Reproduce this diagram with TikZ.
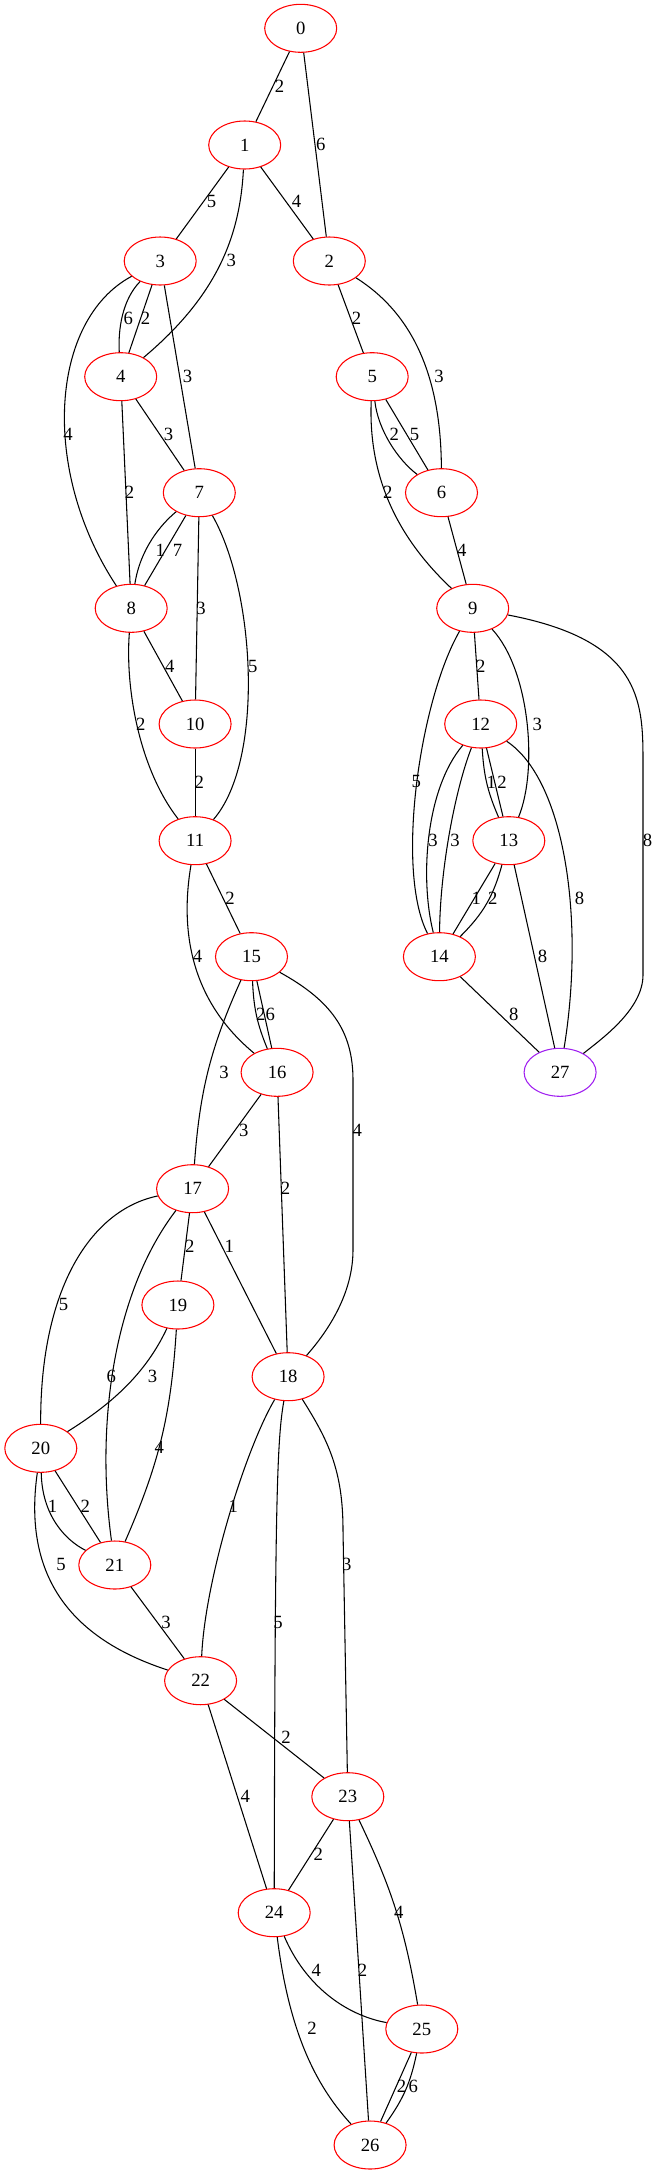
\documentclass[tikz,border=0pt]{standalone}
\usepackage{fontspec}
\setmainfont{Liberation Serif}
\usepackage{xcolor}
\usetikzlibrary{shapes.geometric}
\definecolor{gvpurple}{RGB}{160,32,240}

\begin{document}
\begin{tikzpicture}[x=0.75pt,y=-0.75pt,line width=0.8pt,
    vtx/.style={draw=red,ellipse,minimum width=54pt,minimum height=36pt,
      inner sep=0pt,font=\fontsize{14}{16}\selectfont},
    goal/.style={vtx,draw=gvpurple},
    wt/.style={inner sep=0pt,font=\fontsize{14}{16}\selectfont}]
  \useasboundingbox (0,0) rectangle (656,2175);

  % vertices
  \node (n0) [vtx] at (300.7,28.3) {0};
  \node (n1) [vtx] at (244.7,145) {1};
  \node (n2) [vtx] at (329.3,261) {2};
  \node (n3) [vtx] at (160.2,261) {3};
  \node (n4) [vtx] at (120.7,376.7) {4};
  \node (n5) [vtx] at (372.2,376.7) {5};
  \node (n6) [vtx] at (441.5,492.7) {6};
  \node (n7) [vtx] at (199.3,492.7) {7};
  \node (n8) [vtx] at (131.2,608.3) {8};
  \node (n9) [vtx] at (472.7,608.3) {9};
  \node (n10) [vtx] at (195.1,724) {10};
  \node (n11) [vtx] at (195.1,840.7) {11};
  \node (n12) [vtx] at (480.7,724) {12};
  \node (n13) [vtx] at (508.8,840.7) {13};
  \node (n14) [vtx] at (439.4,956.7) {14};
  \node (n15) [vtx] at (251.5,956.7) {15};
  \node (n16) [vtx] at (277.1,1072.3) {16};
  \node (n17) [vtx] at (192.6,1188.7) {17};
  \node (n18) [vtx] at (288.1,1376.7) {18};
  \node (n19) [vtx] at (177.9,1305) {19};
  \node (n20) [vtx] at (40.8,1448.3) {20};
  \node (n21) [vtx] at (114.8,1565) {21};
  \node (n22) [vtx] at (200.6,1680.7) {22};
  \node (n23) [vtx] at (347.8,1796.7) {23};
  \node (n24) [vtx] at (274.2,1912.7) {24};
  \node (n25) [vtx] at (421.8,2029) {25};
  \node (n26) [vtx] at (370.1,2145) {26};
  \node (n27) [goal] at (560.1,1072.3) {27};

  % weighted edges
  \draw (n0) -- (n1) node[wt] at (279.6,86.7) {2};
  \draw (n0) -- (n2) node[wt] at (320.9,144) {6};
  \draw (n1) -- (n3) node[wt] at (211.5,201.7) {5};
  \draw (n1) -- (n2) node[wt] at (296.5,201.7) {4};
  \draw (n1) .. controls (240,235) and (218,295) .. (n4) node[wt] at (231.3,260) {3};
  \draw (n3) .. controls (122,300) and (118,330) .. (n4) node[wt] at (128.3,318.3) {6};
  \draw (n3) -- (n4) node[wt] at (145.5,318.3) {2};
  \draw (n3) -- (n7) node[wt] at (187.6,376) {3};
  \draw (n3) .. controls (50,320) and (40,470) .. (n8) node[wt] at (68.1,434) {4};
  \draw (n2) -- (n5) node[wt] at (356.6,318.3) {2};
  \draw (n2) .. controls (415,315) and (441,380) .. (n6) node[wt] at (439,376) {3};
  \draw (n4) -- (n7) node[wt] at (168.6,434) {3};
  \draw (n4) -- (n8) node[wt] at (129.5,492.3) {2};
  \draw (n5) .. controls (378,430) and (398,460) .. (n6) node[wt] at (394.4,434) {2};
  \draw (n5) -- (n6) node[wt] at (414.6,434) {5};
  \draw (n5) .. controls (368,480) and (400,540) .. (n9) node[wt] at (387.7,492.3) {2};
  \draw (n6) -- (n9) node[wt] at (461.7,550) {4};
  \draw (n7) .. controls (160,525) and (140,550) .. (n8) node[wt] at (160.2,550.7) {1};
  \draw (n7) -- (n8) node[wt] at (177.5,550.7) {7};
  \draw (n7) -- (n10) node[wt] at (201,608.3) {3};
  \draw (n7) .. controls (255,590) and (265,760) .. (n11) node[wt] at (252.7,666) {5};
  \draw (n8) -- (n10) node[wt] at (169.9,666) {4};
  \draw (n8) .. controls (125,690) and (140,770) .. (n11) node[wt] at (140.9,724.3) {2};
  \draw (n9) -- (n12) node[wt] at (480.7,666) {2};
  \draw (n9) .. controls (530,670) and (538,770) .. (n13) node[wt] at (537.4,724) {3};
  \draw (n9) .. controls (420,700) and (395,870) .. (n14) node[wt] at (416.3,781.7) {5};
  \draw (n9) .. controls (640,640) and (643,700) .. (643,760) -- (643,975)
    .. controls (643,1010) and (600,1040) .. (n27) node[wt] at (647.6,840) {8};
  \draw (n10) -- (n11) node[wt] at (199.3,782.3) {2};
  \draw (n12) to[bend right=10] (n13) node[wt] at (491.2,782.3) {1};
  \draw (n12) -- (n13) node[wt] at (502.1,782.3) {2};
  \draw (n12) .. controls (425,790) and (420,880) .. (n14) node[wt] at (433.1,840) {3};
  \draw (n12) .. controls (455,790) and (440,870) .. (n14) node[wt] at (455,840) {3};
  \draw (n12) .. controls (565,780) and (585,920) .. (n27) node[wt] at (579.5,898.3) {8};
  \draw (n13) -- (n14) node[wt] at (476.4,898.3) {1};
  \draw (n13) to[bend left=15] (n14) node[wt] at (492.8,898.3) {2};
  \draw (n13) -- (n27) node[wt] at (542.5,956.7) {8};
  \draw (n14) -- (n27) node[wt] at (513.9,1014) {8};
  \draw (n11) -- (n15) node[wt] at (230,898.3) {2};
  \draw (n11) .. controls (180,930) and (190,1000) .. (n16) node[wt] at (197.6,956.7) {4};
  \draw (n15) to[bend right=10] (n16) node[wt] at (260.7,1014) {2};
  \draw (n15) -- (n16) node[wt] at (270.4,1014) {6};
  \draw (n15) to[bend right=10] (n17) node[wt] at (224.1,1072.3) {3};
  \draw (n15) .. controls (330,1000) and (353,1030) .. (353,1080) -- (353,1250)
    .. controls (353,1300) and (320,1340) .. (n18) node[wt] at (357.4,1130) {4};
  \draw (n16) -- (n17) node[wt] at (243.9,1130) {3};
  \draw (n16) -- (n18) node[wt] at (285.5,1188.3) {2};
  \draw (n17) -- (n19) node[wt] at (189.7,1246) {2};
  \draw (n17) -- (n18) node[wt] at (229.2,1246) {1};
  \draw (n17) .. controls (90,1210) and (40,1290) .. (n20) node[wt] at (63.5,1304) {5};
  \draw (n17) .. controls (115,1290) and (95,1420) .. (n21) node[wt] at (111.4,1376) {6};
  \draw (n19) .. controls (145,1375) and (110,1405) .. (n20) node[wt] at (152.6,1376) {3};
  \draw (n19) to[bend left=10] (n21) node[wt] at (159.4,1447.7) {4};
  \draw (n20) .. controls (42,1515) and (65,1540) .. (n21) node[wt] at (52.6,1506.7) {1};
  \draw (n20) -- (n21) node[wt] at (85.4,1506.7) {2};
  \draw (n20) .. controls (22,1580) and (75,1640) .. (n22) node[wt] at (61,1564.3) {5};
  \draw (n21) -- (n22) node[wt] at (166.1,1622.3) {3};
  \draw (n18) .. controls (245,1450) and (205,1580) .. (n22) node[wt] at (233.4,1506.7) {1};
  \draw (n18) .. controls (277,1440) and (275,1500) .. (n24) node[wt] at (278,1622.3) {5};
  \draw (n18) .. controls (328,1440) and (343,1470) .. (343,1530) -- (n23) node[wt] at (346.9,1564.3) {3};
  \draw (n22) -- (n23) node[wt] at (286,1737.7) {2};
  \draw (n22) -- (n24) node[wt] at (245.2,1796) {4};
  \draw (n23) -- (n24) node[wt] at (318.3,1854.3) {2};
  \draw (n23) to[bend left=8] (n25) node[wt] at (398.7,1912.3) {4};
  \draw (n23) -- (n26) node[wt] at (362.5,1970.7) {2};
  \draw (n24) .. controls (305,1985) and (345,2015) .. (n25) node[wt] at (316.2,1970.7) {4};
  \draw (n24) .. controls (290,2040) and (320,2090) .. (n26) node[wt] at (312,2028.3) {2};
  \draw (n25) -- (n26) node[wt] at (401.6,2086) {2};
  \draw (n25) to[bend left=12] (n26) node[wt] at (413.4,2086) {6};
\end{tikzpicture}
\end{document}
